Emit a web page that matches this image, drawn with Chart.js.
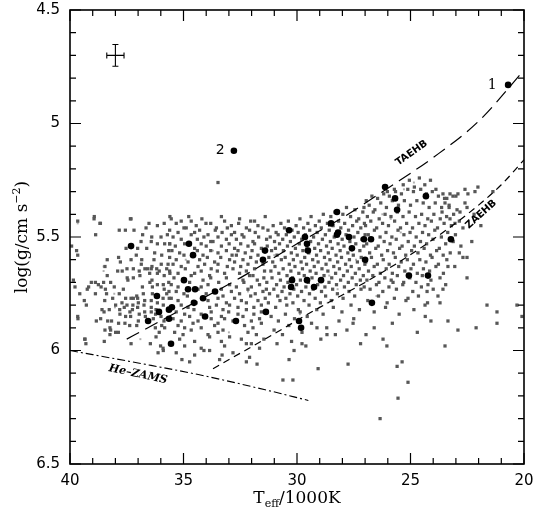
<!DOCTYPE html>
<html>
<head>
<meta charset="utf-8">
<style>
  html, body { margin: 0; padding: 0; background: #fff; }
  #wrap { width: 535px; height: 518px; position: relative; }
</style>
</head>
<body>
<div id="wrap"><canvas id="sdbChart"></canvas></div>

<script src="https://cdn.jsdelivr.net/npm/chart.js"></script>
<script>
// axis ticks
const xTicks = [40, 35, 30, 25, 20];
const yTicks = [4.5, 5, 5.5, 6, 6.5];

// observed stars (black dots), [Teff/1000K, log g]
const observed = [
  [20.70,4.83],[32.78,5.12],
  [37.31,5.54],[34.76,5.53],[34.58,5.58],[34.98,5.69],[34.80,5.73],[34.49,5.73],[33.61,5.74],[36.17,5.76],
  [34.14,5.77],[34.54,5.79],[36.08,5.83],[35.64,5.82],[35.51,5.81],[36.56,5.87],[35.64,5.86],[34.05,5.85],[35.55,5.97],
  [28.50,5.44],[28.24,5.39],[30.35,5.47],[29.65,5.50],[29.56,5.53],[28.19,5.48],[28.24,5.49],[27.71,5.50],[27.05,5.51],
  [26.74,5.51],[27.58,5.55],[31.41,5.56],[29.52,5.56],[31.50,5.60],[30.22,5.69],[30.26,5.72],[29.56,5.69],[28.94,5.69],
  [29.25,5.72],[31.37,5.83],[32.69,5.87],[29.91,5.87],[29.82,5.90],
  [26.12,5.28],[25.68,5.33],[24.32,5.32],[25.59,5.38],[23.22,5.51],[27.00,5.60],[25.07,5.67],[24.23,5.67],[26.70,5.79]
];

// simulated population (grey squares), [Teff/1000K, log g]
const simulated = [
  // 40 - 35.6 kK
  [38.93,5.41],[37.34,5.42],[38.66,5.44],[36.52,5.44],[35.85,5.44],[36.15,5.45],[37.83,5.47],[37.56,5.47],[37.18,5.47],[36.65,5.46],
  [38.87,5.49],[36.80,5.49],[36.40,5.50],[35.99,5.50],[35.71,5.49],[36.87,5.52],[36.42,5.52],[36.15,5.53],[35.83,5.53],[35.61,5.53],
  [39.93,5.54],[37.53,5.55],[37.02,5.55],[36.62,5.55],[39.71,5.56],[39.66,5.58],[37.08,5.58],[36.27,5.57],[35.65,5.56],[35.96,5.58],
  [38.36,5.60],[37.86,5.59],[37.31,5.60],[36.84,5.60],[36.30,5.60],[37.78,5.61],[38.46,5.63],[36.86,5.62],[36.39,5.63],[35.98,5.62],
  [35.68,5.62],[36.18,5.64],[37.90,5.65],[37.70,5.65],[37.49,5.64],[36.95,5.65],[37.21,5.64],[36.70,5.64],[36.58,5.64],[36.42,5.64],
  [36.07,5.65],[35.74,5.64],[38.36,5.67],[36.92,5.67],[36.49,5.66],[36.15,5.66],[35.85,5.67],[35.60,5.66],[39.85,5.69],[37.45,5.69],
  [36.39,5.69],[37.48,5.68],[37.21,5.68],[39.06,5.70],[38.88,5.70],[38.75,5.71],[38.52,5.70],[38.21,5.70],[36.48,5.70],[36.15,5.71],
  [35.89,5.71],[35.65,5.70],[39.78,5.72],[39.18,5.72],[38.63,5.72],[38.44,5.73],[38.05,5.72],[37.65,5.73],[36.81,5.72],[36.37,5.72],
  [35.85,5.73],[35.64,5.74],[39.57,5.75],[39.24,5.73],[38.88,5.75],[38.39,5.75],[38.12,5.77],[37.83,5.75],[37.06,5.76],[37.31,5.77],
  [36.77,5.75],[36.37,5.75],[35.74,5.75],[39.37,5.78],[38.47,5.78],[37.55,5.77],[37.21,5.77],[37.02,5.77],[36.71,5.78],[36.42,5.78],
  [36.15,5.79],[35.90,5.77],[35.63,5.77],[39.28,5.80],[37.99,5.80],[37.71,5.79],[37.49,5.80],[37.23,5.80],[36.99,5.79],[36.74,5.80],
  [36.42,5.81],[35.89,5.80],[38.59,5.82],[38.27,5.82],[37.81,5.82],[37.61,5.81],[37.36,5.83],[37.25,5.82],[37.02,5.81],[36.71,5.83],
  [36.42,5.83],[36.21,5.82],[39.66,5.85],[38.50,5.83],[37.80,5.84],[37.55,5.85],[37.33,5.85],[36.95,5.84],[36.68,5.85],[36.23,5.84],
  [35.99,5.85],[38.84,5.87],[38.65,5.86],[38.34,5.87],[38.17,5.87],[36.99,5.87],[36.33,5.86],[35.86,5.87],[38.24,5.90],[37.86,5.88],
  [37.58,5.88],[37.37,5.89],[37.06,5.89],[35.96,5.89],[38.46,5.91],[38.21,5.91],[37.99,5.92],[36.24,5.90],[35.83,5.90],[38.24,5.93],
  [37.87,5.92],[36.21,5.94],[36.07,5.92],[39.35,5.95],[38.49,5.96],[37.31,5.97],[36.46,5.97],[36.01,5.98],[35.61,5.97],[36.12,6.01],
  [35.89,6.00],[39.66,5.43],[38.94,5.42],[38.68,5.44],[37.31,5.42],[35.60,5.41],[33.48,5.26],[39.34,5.95],[39.30,5.97],[35.07,6.04],
  [35.90,5.99],[33.30,6.02],[31.76,6.06],[34.10,6.00],[39.65,5.86],
  // 35.6 - 31.3 kK
  [35.54,5.42],[35.10,5.43],[34.77,5.41],[34.19,5.42],[33.80,5.44],[33.33,5.41],[32.53,5.42],[31.87,5.43],[31.40,5.41],
  [35.32,5.44],[34.98,5.46],[34.66,5.43],[34.44,5.45],[34.01,5.44],[33.55,5.46],[33.19,5.43],[32.89,5.45],[32.57,5.44],[32.23,5.46],[32.04,5.43],[31.72,5.45],
  [35.61,5.47],[35.24,5.48],[34.88,5.46],[34.51,5.48],[34.29,5.47],[33.92,5.49],[33.60,5.47],[33.30,5.48],[33.07,5.46],[32.75,5.48],[32.42,5.49],[32.09,5.47],[31.84,5.48],[31.50,5.46],
  [35.46,5.50],[35.10,5.51],[34.66,5.49],[34.39,5.51],[34.10,5.50],[33.80,5.52],[33.48,5.50],[33.11,5.51],[32.89,5.49],[32.67,5.51],[32.34,5.50],[31.94,5.52],[31.69,5.50],[31.34,5.51],
  [35.61,5.53],[35.36,5.54],[34.95,5.53],[34.51,5.55],[34.22,5.53],[34.00,5.54],[33.70,5.52],[33.33,5.54],[32.99,5.53],[32.75,5.55],[32.48,5.53],[32.16,5.54],[31.87,5.53],[31.57,5.55],
  [35.51,5.56],[35.17,5.57],[34.39,5.56],[34.14,5.58],[33.80,5.56],[33.48,5.57],[33.11,5.56],[32.86,5.58],[32.60,5.56],[32.28,5.57],[31.98,5.56],[31.72,5.58],
  [35.61,5.59],[35.32,5.60],[34.98,5.58],[34.29,5.60],[33.95,5.59],[33.63,5.61],[33.36,5.59],[32.97,5.60],[32.67,5.58],[32.38,5.60],[32.04,5.59],[31.79,5.61],
  [35.46,5.62],[35.10,5.63],[34.80,5.61],[34.36,5.63],[34.07,5.62],[33.78,5.64],[33.48,5.62],[33.07,5.63],[32.75,5.61],[32.48,5.63],[32.16,5.62],[31.87,5.64],[31.50,5.62],
  [35.61,5.65],[35.24,5.66],[34.92,5.64],[34.51,5.66],[34.22,5.65],[33.85,5.67],[33.51,5.65],[33.19,5.66],[32.82,5.64],[32.53,5.66],[32.23,5.65],[31.94,5.67],[31.43,5.65],
  [35.42,5.68],[35.02,5.69],[34.66,5.67],[34.14,5.69],[33.80,5.68],[33.45,5.70],[33.11,5.68],[32.38,5.69],[32.09,5.67],[31.75,5.69],[31.46,5.68],
  [35.54,5.71],[35.24,5.72],[34.73,5.70],[34.22,5.72],[33.92,5.71],[33.33,5.73],[32.97,5.71],[32.67,5.72],[32.34,5.70],[32.01,5.72],[31.65,5.71],[31.35,5.73],
  [35.32,5.74],[34.98,5.75],[34.36,5.73],[34.00,5.75],[33.63,5.74],[33.26,5.76],[32.89,5.74],[32.53,5.75],[32.16,5.73],[31.84,5.75],[31.50,5.74],
  [35.54,5.77],[35.24,5.78],[34.83,5.76],[33.92,5.78],[33.48,5.77],[33.11,5.79],[32.75,5.77],[32.45,5.78],[32.04,5.76],[31.72,5.78],[31.40,5.77],
  [35.10,5.80],[34.80,5.81],[34.44,5.79],[33.85,5.81],[33.55,5.80],[33.26,5.82],[32.97,5.80],[32.60,5.81],[32.23,5.79],[31.90,5.81],[31.57,5.80],
  [35.32,5.83],[34.95,5.84],[34.54,5.82],[34.22,5.84],[33.78,5.83],[33.33,5.85],[33.01,5.83],[32.60,5.84],[32.23,5.82],[31.90,5.84],[31.57,5.83],
  [35.46,5.86],[35.10,5.87],[34.73,5.85],[34.36,5.87],[33.78,5.86],[33.48,5.88],[33.19,5.86],[32.82,5.87],[32.38,5.85],[32.01,5.87],[31.65,5.86],
  [35.24,5.89],[34.95,5.90],[34.58,5.88],[34.22,5.90],[33.63,5.89],[33.26,5.91],[32.31,5.89],[31.94,5.90],[31.57,5.88],
  [35.39,5.92],[35.02,5.93],[34.66,5.91],[33.92,5.93],[33.48,5.92],[32.97,5.94],[32.16,5.92],[31.79,5.93],
  [35.17,5.95],[34.51,5.96],[33.85,5.94],[33.33,5.96],[32.45,5.95],[32.01,5.97],[31.46,5.95],
  [34.95,5.98],[34.22,5.99],[33.19,5.98],[32.23,5.97],[31.65,5.99],
  [35.32,6.01],[34.51,6.02],[33.85,6.00],[32.82,6.01],[32.09,6.03],
  [34.73,6.05],[33.41,6.04],[32.23,6.05],
  // 31.3 - 27.0 kK
  [31.28,5.47],[31.05,5.45],[30.92,5.48],[30.71,5.44],[30.55,5.46],[30.38,5.43],[30.22,5.47],[30.04,5.45],[29.87,5.42],[29.71,5.46],
  [29.52,5.44],[29.38,5.41],[29.19,5.45],[29.02,5.43],[28.84,5.40],[28.66,5.44],[28.51,5.41],[28.33,5.39],[28.17,5.43],[27.98,5.40],
  [27.82,5.37],[27.64,5.41],[27.45,5.38],[27.28,5.42],[27.10,5.39],
  [31.18,5.50],[30.99,5.52],[30.83,5.49],[30.63,5.51],[30.47,5.49],[30.29,5.52],[30.12,5.50],[29.95,5.48],[29.79,5.51],[29.63,5.49],
  [29.44,5.47],[29.27,5.50],[29.11,5.48],[28.93,5.46],[28.75,5.49],[28.58,5.47],[28.41,5.45],[28.24,5.48],[28.07,5.46],[27.90,5.44],
  [27.73,5.47],[27.55,5.45],[27.37,5.43],[27.19,5.46],[27.03,5.44],
  [31.31,5.54],[31.12,5.56],[30.95,5.55],[30.77,5.53],[30.60,5.56],[30.42,5.54],[30.25,5.57],[30.07,5.55],[29.90,5.53],[29.74,5.56],
  [29.57,5.54],[29.40,5.52],[29.22,5.55],[29.05,5.53],[28.88,5.51],[28.70,5.54],[28.53,5.52],[28.36,5.50],[28.19,5.53],[28.01,5.51],
  [27.84,5.49],[27.67,5.52],[27.49,5.50],[27.32,5.48],[27.14,5.51],[27.00,5.49],
  [31.24,5.59],[31.07,5.61],[30.88,5.58],[30.69,5.60],[30.52,5.59],[30.34,5.62],[30.16,5.60],[29.99,5.58],[29.82,5.61],[29.66,5.59],
  [29.48,5.57],[29.31,5.60],[29.14,5.58],[28.96,5.56],[28.79,5.59],[28.62,5.57],[28.45,5.55],[28.28,5.58],[28.10,5.56],[27.93,5.54],
  [27.76,5.57],[27.58,5.55],[27.41,5.53],[27.23,5.56],[27.06,5.54],
  [31.15,5.65],[30.97,5.63],[30.80,5.66],[30.61,5.64],[30.44,5.67],[30.27,5.65],[30.09,5.63],[29.92,5.66],[29.76,5.64],[29.58,5.62],
  [29.42,5.65],[29.24,5.63],[29.07,5.61],[28.90,5.64],[28.72,5.62],[28.55,5.60],[28.38,5.63],[28.21,5.61],[28.04,5.59],[27.86,5.62],
  [27.69,5.60],[27.52,5.58],[27.34,5.61],[27.17,5.59],[27.01,5.62],
  [31.33,5.70],[31.10,5.68],[30.90,5.71],[30.73,5.69],[30.57,5.72],[30.40,5.70],[30.20,5.68],[30.02,5.71],[29.85,5.69],[29.68,5.67],
  [29.50,5.70],[29.34,5.68],[29.16,5.66],[28.99,5.69],[28.81,5.67],[28.64,5.65],[28.47,5.68],[28.30,5.66],[28.13,5.64],[27.95,5.67],
  [27.78,5.65],[27.61,5.63],[27.43,5.66],[27.26,5.64],[27.08,5.67],
  [31.21,5.75],[31.02,5.73],[30.85,5.76],[30.66,5.74],[30.49,5.77],[30.31,5.75],[30.14,5.73],[29.97,5.76],[29.80,5.74],[29.61,5.72],
  [29.45,5.75],[29.29,5.73],[29.09,5.71],[28.92,5.74],[28.77,5.72],[28.59,5.70],[28.43,5.73],[28.26,5.71],[28.08,5.69],[27.91,5.72],
  [27.74,5.70],[27.57,5.68],[27.39,5.71],[27.21,5.69],[27.04,5.72],
  [31.26,5.79],[30.94,5.81],[30.75,5.78],[30.45,5.80],[30.18,5.79],[29.94,5.82],[29.69,5.78],[29.47,5.80],[29.20,5.77],[28.97,5.79],
  [28.74,5.76],[28.49,5.78],[28.22,5.75],[27.97,5.77],[27.71,5.74],[27.46,5.76],[27.18,5.73],
  [31.14,5.85],[30.82,5.87],[30.51,5.84],[30.11,5.86],[29.86,5.83],[29.55,5.85],[29.13,5.82],[28.85,5.84],[28.40,5.81],[28.02,5.83],
  [27.62,5.80],[27.25,5.82],
  [31.01,5.91],[30.64,5.93],[30.36,5.89],[29.78,5.92],[29.36,5.88],[28.69,5.90],[28.15,5.87],[27.50,5.86],
  [30.88,5.97],[30.24,5.96],[29.61,5.98],[28.95,5.95],[28.31,5.93],[27.80,5.91],
  // 27.0 - 22.6 kK
  [26.95,5.34],[26.70,5.32],[26.45,5.33],[26.18,5.31],[25.93,5.32],[25.66,5.30],[25.40,5.31],[25.12,5.29],[24.87,5.30],[24.55,5.29],
  [24.30,5.31],[24.04,5.30],[23.77,5.32],[23.50,5.33],
  [25.32,5.27],[25.05,5.25],[24.83,5.28],[24.61,5.24],[24.37,5.27],[24.12,5.25],[23.88,5.29],[25.71,5.29],[26.02,5.30],
  [27.05,5.37],[26.82,5.36],[26.57,5.38],[26.31,5.35],[26.06,5.37],[25.80,5.34],[25.53,5.36],[25.27,5.34],[25.00,5.36],[24.72,5.34],
  [24.44,5.35],[24.18,5.37],[23.91,5.35],[23.63,5.37],[23.30,5.36],[22.95,5.38],
  [26.90,5.41],[26.64,5.39],[26.38,5.42],[26.12,5.40],[25.86,5.41],[25.58,5.39],[25.33,5.41],[25.06,5.39],[24.78,5.41],[24.51,5.40],
  [24.24,5.42],[23.97,5.40],[23.69,5.42],[23.41,5.41],[23.10,5.40],
  [26.98,5.45],[26.75,5.43],[26.49,5.46],[26.23,5.44],[25.97,5.45],[25.70,5.43],[25.44,5.46],[25.17,5.44],[24.91,5.46],[24.63,5.44],
  [24.36,5.45],[24.08,5.43],[23.81,5.46],[23.52,5.44],[23.20,5.45],[22.85,5.43],
  [26.86,5.49],[26.59,5.47],[26.34,5.50],[26.08,5.48],[25.82,5.50],[25.55,5.47],[25.29,5.49],[25.02,5.48],[24.75,5.50],[24.47,5.48],
  [24.20,5.49],[23.93,5.47],[23.64,5.50],[23.36,5.48],[23.02,5.49],
  [26.93,5.53],[26.68,5.51],[26.42,5.54],[26.16,5.52],[25.90,5.53],[25.63,5.51],[25.37,5.54],[25.10,5.52],[24.83,5.54],[24.56,5.52],
  [24.29,5.53],[24.01,5.51],[23.73,5.55],[23.45,5.53],[23.12,5.52],[22.78,5.54],
  [26.80,5.57],[26.53,5.55],[26.27,5.58],[26.01,5.56],[25.75,5.57],[25.48,5.55],[25.21,5.58],[24.95,5.56],[24.67,5.57],[24.40,5.55],
  [24.12,5.58],[23.85,5.56],[23.56,5.58],[23.25,5.57],
  [26.97,5.61],[26.72,5.59],[26.46,5.62],[26.20,5.60],[25.94,5.62],[25.67,5.59],[25.41,5.61],[25.14,5.60],[24.87,5.62],[24.59,5.60],
  [24.32,5.61],[24.05,5.59],[23.77,5.62],[23.40,5.60],[23.05,5.63],
  [26.85,5.65],[26.60,5.63],[26.33,5.66],[26.07,5.64],[25.80,5.66],[25.52,5.63],[25.25,5.65],[24.98,5.64],[24.70,5.66],[24.43,5.64],
  [24.16,5.65],[23.88,5.63],[23.55,5.66],
  [26.92,5.69],[26.66,5.67],[26.39,5.70],[26.13,5.68],[25.85,5.69],[25.58,5.67],[25.30,5.70],[25.03,5.68],[24.76,5.70],[24.48,5.67],
  [24.10,5.69],[23.70,5.68],
  [26.78,5.73],[26.50,5.71],[26.22,5.74],[25.95,5.72],[25.62,5.73],[25.34,5.71],[24.90,5.74],[24.52,5.72],[24.00,5.73],[23.45,5.71],
  [26.88,5.78],[26.41,5.76],[26.03,5.79],[25.71,5.77],[25.20,5.78],[24.65,5.76],[24.25,5.79],
  [26.60,5.83],[26.10,5.81],[25.50,5.84],[24.85,5.82],[24.35,5.85],
  // 23.6 - 20 kK and the sparse outskirts
  [23.26,5.31],[22.60,5.29],[22.47,5.31],[22.16,5.30],[23.40,5.33],[23.00,5.32],[23.57,5.31],[23.13,5.32],[22.91,5.31],[22.03,5.28],
  [21.37,5.30],[22.60,5.35],[22.51,5.37],[23.48,5.35],[23.61,5.39],[23.30,5.37],[22.82,5.39],[23.26,5.42],[23.04,5.44],[22.69,5.46],
  [22.69,5.59],[22.51,5.59],[22.51,5.68],[23.35,5.63],[23.57,5.73],[23.79,5.76],[24.23,5.71],[21.63,5.80],[20.31,5.80],[23.70,5.79],
  [24.36,5.80],[25.11,5.77],[25.77,5.70],[21.19,5.83],[21.19,5.88],[20.09,5.85],[22.11,5.90],[22.91,5.91],[23.48,5.98],[23.35,5.87],
  [24.10,5.87],[24.27,5.74],[22.30,5.52],[22.85,5.57],[21.90,5.45],[22.20,5.40],
  [25.11,6.14],[25.37,6.05],[25.59,6.07],[25.55,6.21],[26.34,6.30],[26.21,5.95],[26.04,5.98],[26.96,5.93],[27.53,5.88],[27.75,6.06],
  [28.68,5.93],[29.07,6.08],[29.12,5.90],[29.78,5.97],[30.13,6.00],[30.35,6.04],[30.62,6.13],[30.18,6.13],[26.60,5.90],[25.80,5.88],
  [24.70,5.92],[27.20,5.97]
];

// fainter, smaller grey points
const simulatedFaint = [
  [39.66,5.44],[38.52,5.63],[38.52,5.65],[38.02,5.81],[38.05,5.75],[33.70,5.56],[32.16,5.74],[29.09,5.53],[30.27,5.65],
  [28.58,5.67],[28.21,5.73],[28.65,5.79],[24.85,5.26],[25.29,5.29],[26.24,5.40],[25.87,5.42],[25.43,5.48],[24.70,5.57],
  [26.50,5.76],[29.87,5.84],[34.90,5.60],[36.90,5.95],[31.00,5.58],[33.00,5.92],[27.40,5.60]
];

// evolutionary tracks
const taehbT = [37.5, 35.0, 32.5, 30.0, 28.0, 26.0, 24.0, 22.0, 20.0];
const taehbG = [5.95, 5.815, 5.68, 5.53, 5.415, 5.285, 5.15, 4.99, 4.765];
const zaehbT = [33.7, 31.5, 29.0, 27.0, 25.5, 24.0, 22.5, 21.0, 20.0];
const zaehbG = [6.08, 5.955, 5.81, 5.70, 5.61, 5.51, 5.40, 5.27, 5.16];
const zamsT = [40.0, 37.0, 34.3, 31.4, 29.5];
const zamsG = [6.00, 6.055, 6.107, 6.173, 6.22];

// typical error bar: centre and half widths
const errBar = [38.0, 4.70, 0.38, 0.048];

const pts = arr => arr.map(([t, g]) => ({ x: t, y: g }));
const track = (T, G) => T.map((t, i) => ({ x: t, y: G[i] }));

// text drawn in the plot, anchored in data units
const notes = [
  { text: '1', x: 21.40, y: 4.83, font: '14px "DejaVu Serif"', angle: 0 },
  { text: '2', x: 33.38, y: 5.12, font: '14px "DejaVu Sans"', angle: 0 },
  { text: 'TAEHB', x: 24.95, y: 5.13, font: 'bold 10px "DejaVu Sans"', angle: -35 },
  { text: 'ZAEHB', x: 21.89, y: 5.40, font: 'bold 10px "DejaVu Sans"', angle: -42 },
  { text: 'He–ZAMS', x: 37.0, y: 6.105, font: 'italic bold 11px "DejaVu Serif"', angle: 12 }
];

function drawParts(ctx, parts, cx, cy) {
  let total = 0;
  parts.forEach(p => { ctx.font = p.font; p.w = ctx.measureText(p.text).width; total += p.w; });
  let x = cx - total / 2;
  ctx.textAlign = 'left';
  ctx.textBaseline = 'alphabetic';
  parts.forEach(p => { ctx.font = p.font; ctx.fillText(p.text, x, cy + p.dy); x += p.w; });
}

const decorations = {
  id: 'decorations',
  afterDatasetsDraw(chart) {
    const { ctx, chartArea: a, scales: { x, y } } = chart;
    ctx.save();
    ctx.strokeStyle = '#000';
    ctx.fillStyle = '#000';

    // tick marks on all four sides, pointing inwards
    ctx.lineWidth = 1.2;
    ctx.beginPath();
    for (let t = 20; t <= 40; t++) {
      const px = x.getPixelForValue(t);
      const len = t % 5 === 0 ? 11 : 6;
      ctx.moveTo(px, a.bottom); ctx.lineTo(px, a.bottom - len);
      ctx.moveTo(px, a.top); ctx.lineTo(px, a.top + len);
    }
    for (let i = 45; i <= 65; i++) {
      const py = y.getPixelForValue(i / 10);
      const len = i % 5 === 0 ? 11 : 6;
      ctx.moveTo(a.left, py); ctx.lineTo(a.left + len, py);
      ctx.moveTo(a.right, py); ctx.lineTo(a.right - len, py);
    }
    ctx.stroke();

    ctx.lineWidth = 1.6;
    ctx.strokeRect(a.left, a.top, a.right - a.left, a.bottom - a.top);

    // error bar
    const [et, eg, dt, dg] = errBar;
    const ex = x.getPixelForValue(et), ey = y.getPixelForValue(eg);
    const x0 = x.getPixelForValue(et + dt), x1 = x.getPixelForValue(et - dt);
    const y0 = y.getPixelForValue(eg - dg), y1 = y.getPixelForValue(eg + dg);
    ctx.lineWidth = 1.1;
    ctx.beginPath();
    ctx.moveTo(x0, ey); ctx.lineTo(x1, ey);
    ctx.moveTo(ex, y0); ctx.lineTo(ex, y1);
    ctx.moveTo(x0, ey - 3); ctx.lineTo(x0, ey + 3);
    ctx.moveTo(x1, ey - 3); ctx.lineTo(x1, ey + 3);
    ctx.moveTo(ex - 3, y0); ctx.lineTo(ex + 3, y0);
    ctx.moveTo(ex - 3, y1); ctx.lineTo(ex + 3, y1);
    ctx.stroke();

    // labels inside the plot
    notes.forEach(n => {
      ctx.save();
      ctx.translate(x.getPixelForValue(n.x), y.getPixelForValue(n.y));
      ctx.rotate(n.angle * Math.PI / 180);
      ctx.font = n.font;
      ctx.textAlign = 'center';
      ctx.textBaseline = 'middle';
      ctx.fillText(n.text, 0, 0);
      ctx.restore();
    });

    // axis titles
    const serif = '"DejaVu Serif"';
    drawParts(ctx, [
      { text: 'T', font: `17px ${serif}`, dy: 0 },
      { text: 'eff', font: `11px ${serif}`, dy: 4 },
      { text: '/1000K', font: `17px ${serif}`, dy: 0 }
    ], (a.left + a.right) / 2, 503);

    ctx.save();
    ctx.translate(27, (a.top + a.bottom) / 2);
    ctx.rotate(-Math.PI / 2);
    drawParts(ctx, [
      { text: 'log(g/cm s', font: `17px ${serif}`, dy: 0 },
      { text: '−2', font: `11px ${serif}`, dy: -7 },
      { text: ')', font: `17px ${serif}`, dy: 0 }
    ], 0, 0);
    ctx.restore();

    ctx.restore();
  }
};

const tickFont = { family: 'DejaVu Sans', size: 15 };

// keep the plot frame where the layout padding puts it
const noScalePadding = s => { s.paddingTop = 0; s.paddingBottom = 0; s.paddingLeft = 0; s.paddingRight = 0; };

new Chart(document.getElementById('sdbChart'), {
  type: 'scatter',
  data: {
    datasets: [
      {
        label: 'observed',
        data: pts(observed),
        pointStyle: 'circle',
        pointRadius: 3.3,
        backgroundColor: '#000',
        borderWidth: 0,
        order: 0
      },
      {
        label: 'TAEHB',
        data: track(taehbT, taehbG),
        showLine: true,
        borderColor: '#000',
        borderWidth: 1.2,
        borderDash: [14, 7],
        pointRadius: 0,
        cubicInterpolationMode: 'monotone',
        order: 1
      },
      {
        label: 'ZAEHB',
        data: track(zaehbT, zaehbG),
        showLine: true,
        borderColor: '#000',
        borderWidth: 1.2,
        borderDash: [7, 5],
        pointRadius: 0,
        cubicInterpolationMode: 'monotone',
        order: 1
      },
      {
        label: 'He-ZAMS',
        data: track(zamsT, zamsG),
        showLine: true,
        borderColor: '#000',
        borderWidth: 1.1,
        borderDash: [8, 3, 2, 3],
        pointRadius: 0,
        cubicInterpolationMode: 'monotone',
        order: 1
      },
      {
        label: 'simulated',
        data: pts(simulated),
        pointStyle: 'rect',
        pointRadius: 2.3,
        backgroundColor: '#575757',
        borderWidth: 0,
        order: 2
      },
      {
        label: 'simulated faint',
        data: pts(simulatedFaint),
        pointStyle: 'rect',
        pointRadius: 1.4,
        backgroundColor: '#b0b0b0',
        borderWidth: 0,
        order: 3
      }
    ]
  },
  options: {
    responsive: true,
    maintainAspectRatio: false,
    animation: false,
    layout: { padding: { left: 0, right: 11, top: 10, bottom: 0 } },
    plugins: {
      legend: { display: false },
      tooltip: { enabled: false }
    },
    scales: {
      x: {
        type: 'linear',
        reverse: true,
        min: 20,
        max: 40,
        grid: { display: false, drawTicks: false },
        border: { display: false },
        afterBuildTicks: s => { s.ticks = xTicks.map(v => ({ value: v })); },
        afterFit: s => { s.height = 54; noScalePadding(s); },
        ticks: { padding: 8, color: '#000', font: tickFont, maxRotation: 0, autoSkip: false, callback: v => String(v) }
      },
      y: {
        type: 'linear',
        reverse: true,
        min: 4.5,
        max: 6.5,
        grid: { display: false, drawTicks: false },
        border: { display: false },
        afterBuildTicks: s => { s.ticks = yTicks.map(v => ({ value: v })); },
        afterFit: s => { s.width = 70; noScalePadding(s); },
        ticks: { padding: 10, color: '#000', font: tickFont, autoSkip: false, callback: v => String(v) }
      }
    }
  },
  plugins: [decorations]
});
</script>
</body>
</html>
